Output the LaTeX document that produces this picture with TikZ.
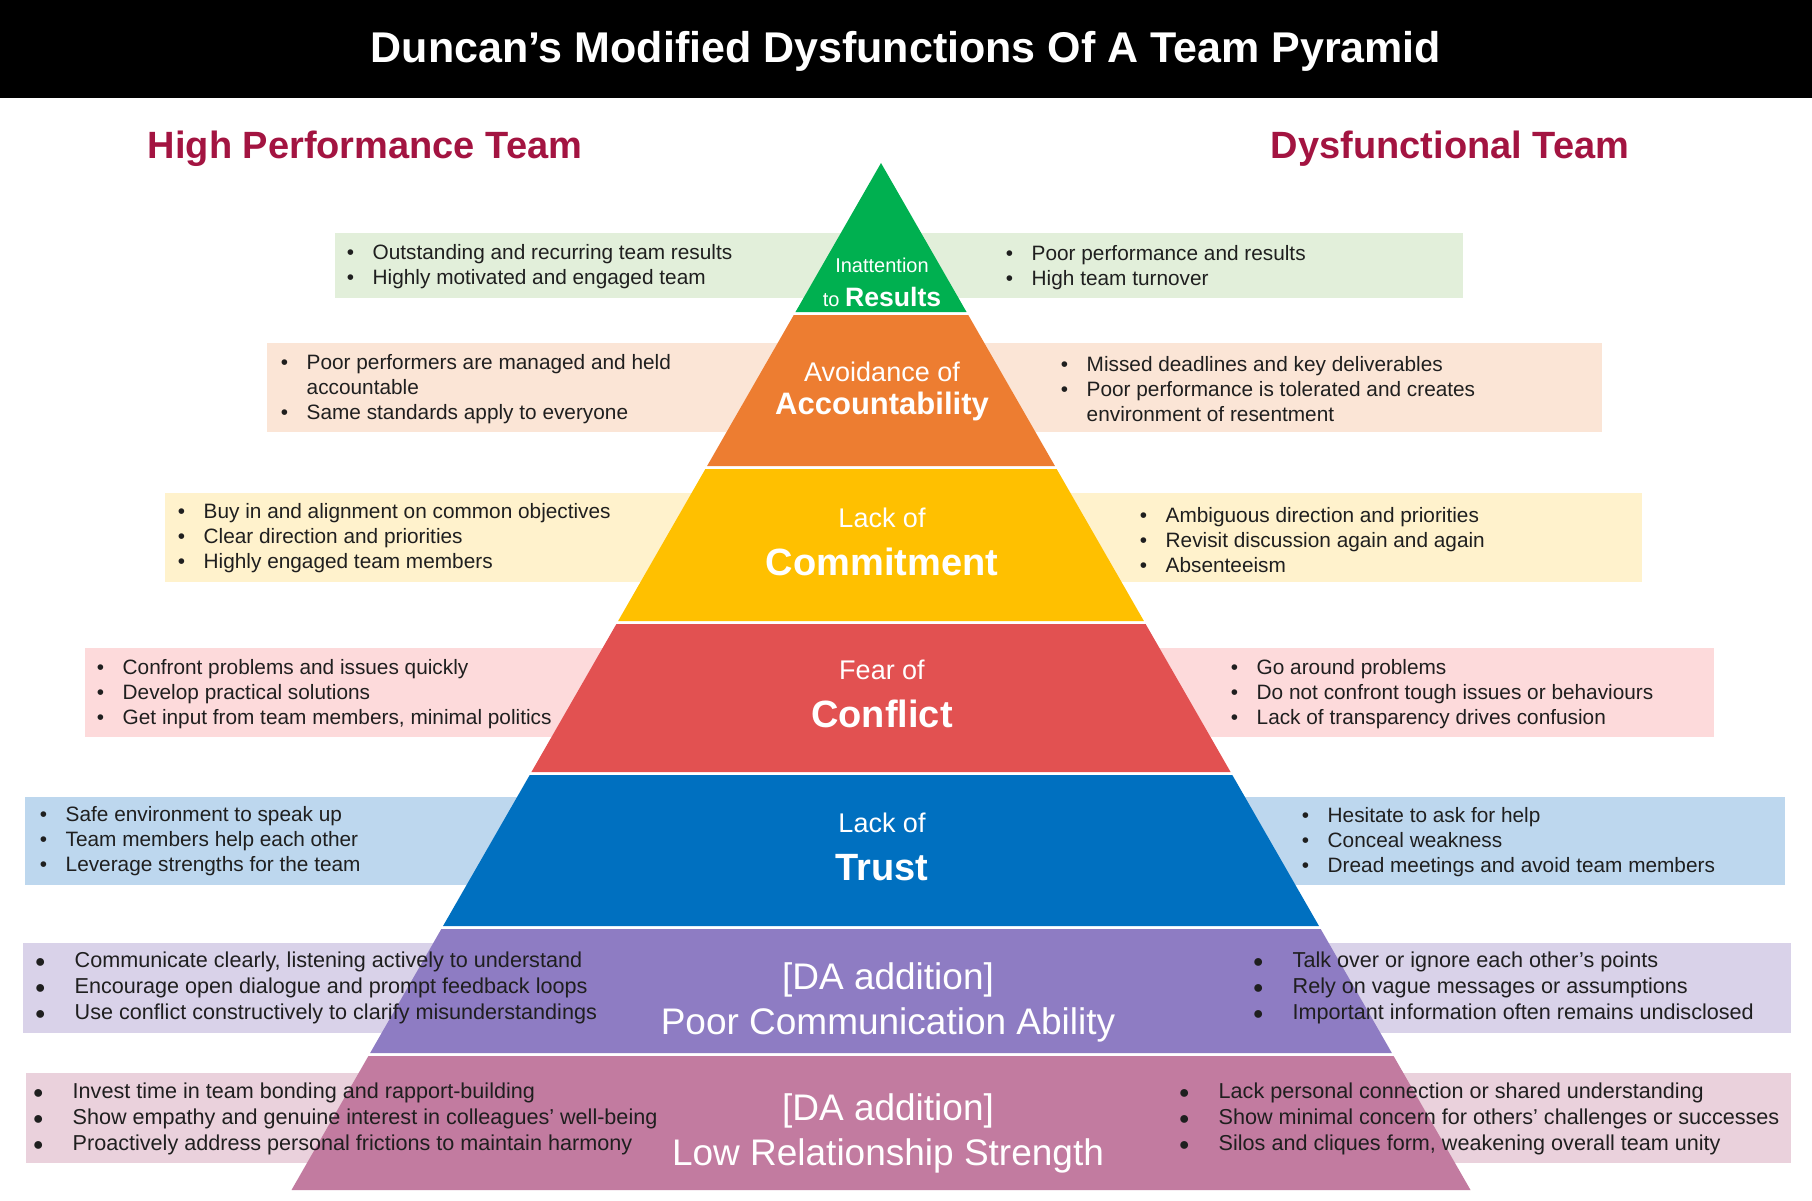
\documentclass[tikz,border=0pt]{standalone}
\usepackage{fontspec}
\setmainfont{Liberation Sans}
\usepackage{tikz}
\usetikzlibrary{calc}
\definecolor{headred}{HTML}{A31441}
\definecolor{pgreen}{HTML}{00B050}
\definecolor{pgreenbox}{HTML}{E2EFDA}
\definecolor{porange}{HTML}{ED7D31}
\definecolor{porangebox}{HTML}{FBE5D6}
\definecolor{pyellow}{HTML}{FFC000}
\definecolor{pyellowbox}{HTML}{FFF2CC}
\definecolor{pred}{HTML}{E25151}
\definecolor{predbox}{HTML}{FDDADB}
\definecolor{pblue}{HTML}{0070C0}
\definecolor{pbluebox}{HTML}{BDD7EE}
\definecolor{ppurple}{HTML}{8E7CC3}
\definecolor{ppurplebox}{HTML}{D9D2E9}
\definecolor{pmauve}{HTML}{C27BA0}
\definecolor{pmauvebox}{HTML}{EAD1DC}
\tikzset{body/.style={anchor=base west, inner sep=0pt, text=black!88,
    font=\fontsize{2.08mm}{2.5mm}\selectfont}}
\tikzset{bodyb/.style={body, font=\fontsize{2.16mm}{2.64mm}\selectfont}}
\tikzset{lblsmall/.style={anchor=base, inner sep=0pt, text=white,
    font=\fontsize{2.7mm}{3mm}\selectfont}}
\tikzset{lblbig/.style={anchor=base, inner sep=0pt, text=white,
    font=\fontsize{3.8mm}{4mm}\selectfont\bfseries}}
\tikzset{lblda/.style={anchor=base, inner sep=0pt, text=white,
    font=\fontsize{3.7mm}{4mm}\selectfont}}
\tikzset{heading/.style={anchor=base, inner sep=0pt, text=headred,
    font=\fontsize{3.8mm}{4mm}\selectfont\bfseries}}
% one layer of the pyramid: top y, bottom y, colour
\newcommand\pyrlayer[3]{%
  \fill[#3] ({881-0.574*(#1-163)},#1) -- ({881+0.574*(#1-163)},#1) --
    ({881+0.574*(#2-163)},#2) -- ({881-0.574*(#2-163)},#2) -- cycle;}
\newcommand\blist[1]{\begin{tabular}[t]{@{}l@{}}#1\end{tabular}}
\newcommand\itm{\makebox[0pt][r]{\textbullet\hspace{1.85mm}}}
\newcommand\itmb{\makebox[0pt][r]{{\fontsize{1.8mm}{1mm}\selectfont ●}\hspace{2.9mm}}}

\begin{document}
\begin{tikzpicture}[x=0.1mm, y=-0.1mm]
  \useasboundingbox (0,0) rectangle (1812,1200);
  %%%% title bar
  \fill[black] (0,0) rectangle (1812,98);
  \node[anchor=base, inner sep=0pt, text=white,
    font=\fontsize{4.3mm}{5mm}\selectfont\bfseries] (title) at (906,63)
    {Duncan’s Modified Dysfunctions Of A Team Pyramid};
  \node[heading] (hpt) at (365,159) {High Performance Team};
  \node[heading] (dft) at (1450,159) {Dysfunctional Team};
  %%%% bands behind the pyramid
  \fill[pgreenbox] (335,233) rectangle (1463,298);
  \fill[porangebox] (267,343) rectangle (1602,432);
  \fill[pyellowbox] (165,493) rectangle (1642,582);
  \fill[predbox] (85,648) rectangle (1714,737);
  \fill[pbluebox] (25,797) rectangle (1785,885);
  \fill[ppurplebox] (23,943) rectangle (1791,1033);
  \fill[pmauvebox] (26,1073) rectangle (1791,1163);
  %%%% pyramid
  \pyrlayer{163}{312}{pgreen}
  \pyrlayer{315}{466}{porange}
  \pyrlayer{469}{621}{pyellow}
  \pyrlayer{624}{772}{pred}
  \pyrlayer{775}{926}{pblue}
  \pyrlayer{929}{1053}{ppurple}
  \pyrlayer{1056}{1190}{pmauve}
  %%%% layer names
  \node[lblsmall, font=\fontsize{2.0mm}{2.4mm}\selectfont] (res1) at (882,272) {Inattention};
  \node[lblsmall, font=\fontsize{2.0mm}{2.4mm}\selectfont] (res2) at (882,306)
    {to {\fontsize{2.66mm}{3mm}\selectfont\bfseries Results}};
  \node[lblsmall] (acc1) at (882,381) {Avoidance of};
  \node[lblbig, font=\fontsize{3.1mm}{3.5mm}\selectfont\bfseries] (acc2) at (882,414) {Accountability};
  \node[lblsmall] (com1) at (882,527) {Lack of};
  \node[lblbig] (com2) at (882,575) {Commitment};
  \node[lblsmall] (con1) at (882,679) {Fear of};
  \node[lblbig] (con2) at (882,727) {Conflict};
  \node[lblsmall] (tru1) at (882,832) {Lack of};
  \node[lblbig] (tru2) at (882,880) {Trust};
  \node[lblda] (comm1) at (888,989) {[DA addition]};
  \node[lblda] (comm2) at (888,1034) {Poor Communication Ability};
  \node[lblda] (rel1) at (888,1120) {[DA addition]};
  \node[lblda] (rel2) at (888,1165) {Low Relationship Strength};
  %%%% high performance side
  \node[body] (hres) at (372,259) {\blist{\itm Outstanding and recurring team results\\
    \itm Highly motivated and engaged team}};
  \node[body] (hacc) at (306,369) {\blist{\itm Poor performers are managed and held\\
    accountable\\ \itm Same standards apply to everyone}};
  \node[body] (hcom) at (203,518) {\blist{\itm Buy in and alignment on common objectives\\
    \itm Clear direction and priorities\\ \itm Highly engaged team members}};
  \node[body] (hcon) at (122,674) {\blist{\itm Confront problems and issues quickly\\
    \itm Develop practical solutions\\ \itm Get input from team members, minimal politics}};
  \node[body] (htru) at (65,821) {\blist{\itm Safe environment to speak up\\
    \itm Team members help each other\\ \itm Leverage strengths for the team}};
  \node[bodyb] (hcomm) at (74,967) {\blist{\itmb Communicate clearly, listening actively to understand\\
    \itmb Encourage open dialogue and prompt feedback loops\\
    \itmb Use conflict constructively to clarify misunderstandings}};
  \node[bodyb] (hrel) at (72,1098) {\blist{\itmb Invest time in team bonding and rapport-building\\
    \itmb Show empathy and genuine interest in colleagues’ well-being\\
    \itmb Proactively address personal frictions to maintain harmony}};
  %%%% dysfunctional side
  \node[body] (dres) at (1031,260) {\blist{\itm Poor performance and results\\
    \itm High team turnover}};
  \node[body] (dacc) at (1086,371) {\blist{\itm Missed deadlines and key deliverables\\
    \itm Poor performance is tolerated and creates\\ environment of resentment}};
  \node[body] (dcom) at (1165,522) {\blist{\itm Ambiguous direction and priorities\\
    \itm Revisit discussion again and again\\ \itm Absenteeism}};
  \node[body] (dcon) at (1256,674) {\blist{\itm Go around problems\\
    \itm Do not confront tough issues or behaviours\\ \itm Lack of transparency drives confusion}};
  \node[body] (dtru) at (1327,822) {\blist{\itm Hesitate to ask for help\\
    \itm Conceal weakness\\ \itm Dread meetings and avoid team members}};
  \node[bodyb] (dcomm) at (1292,967) {\blist{\itmb Talk over or ignore each other’s points\\
    \itmb Rely on vague messages or assumptions\\
    \itmb Important information often remains undisclosed}};
  \node[bodyb] (drel) at (1218,1098) {\blist{\itmb Lack personal connection or shared understanding\\
    \itmb Show minimal concern for others’ challenges or successes\\
    \itmb Silos and cliques form, weakening overall team unity}};
\end{tikzpicture}
\end{document}
